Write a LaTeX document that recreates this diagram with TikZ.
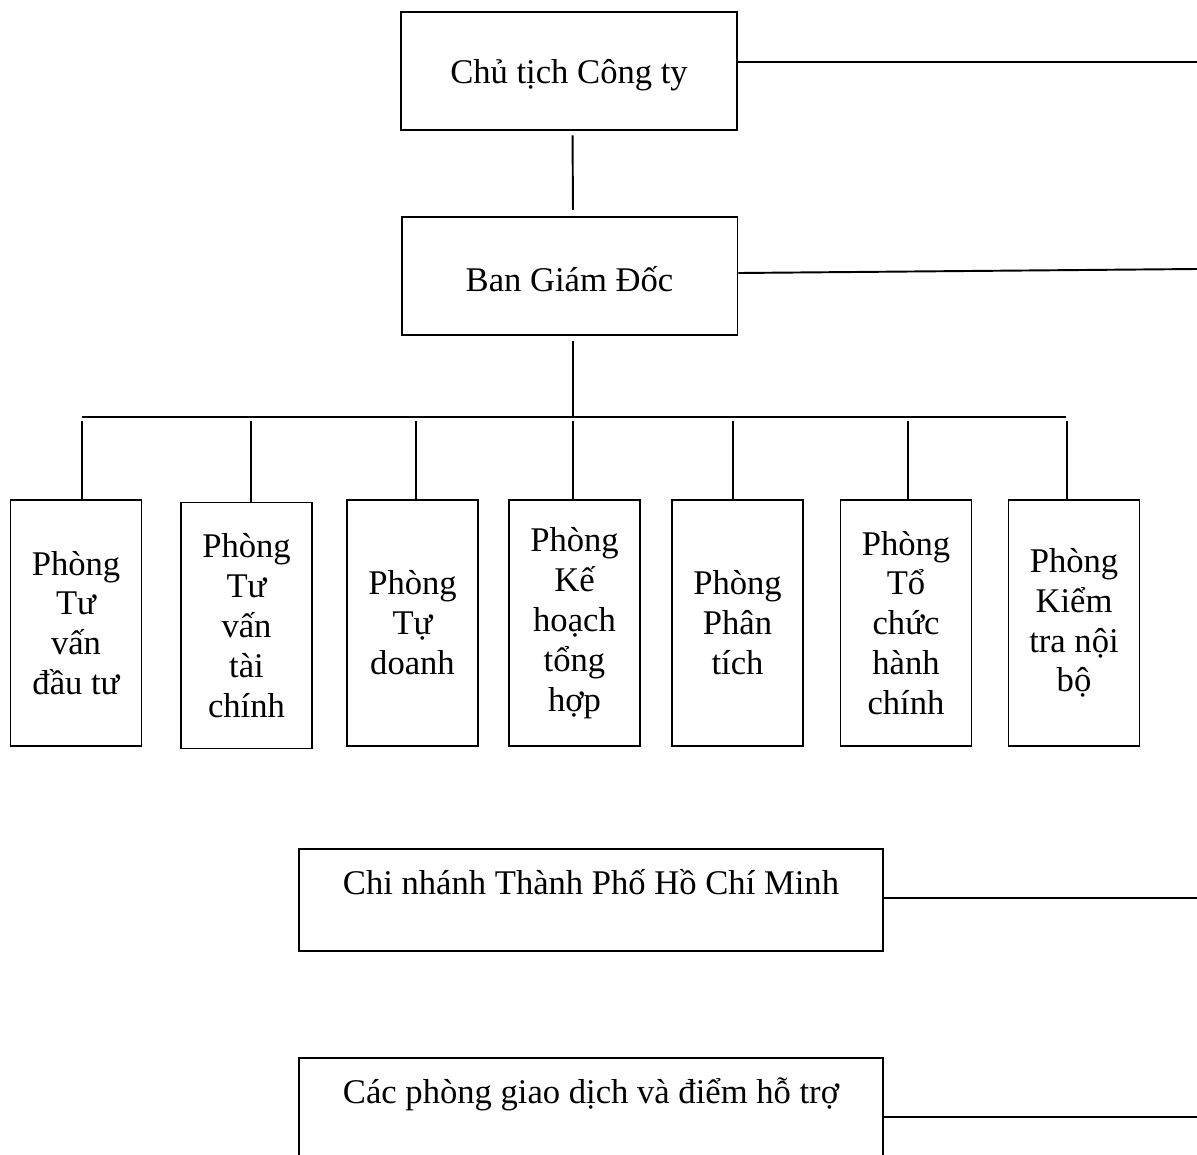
\documentclass[tikz,border=0pt]{standalone}
\usepackage{fontspec}
\setmainfont{Liberation Serif}
\usetikzlibrary{positioning}

\begin{document}
\begin{tikzpicture}[x=0.02cm,y=-0.02cm,line width=1.1pt,
  every node/.style={font=\fontsize{19.7}{22.7}\selectfont},
  box/.style={draw,inner sep=0pt,align=center},
  topbox/.style={box,minimum width=6.72cm,minimum height=2.36cm,text height=18pt},
  dept/.style={box,minimum width=2.62cm,minimum height=4.92cm},
  branch/.style={box,minimum width=11.68cm,minimum height=2.04cm}]
  \useasboundingbox (0,0) rectangle (1197,1155);
  \node[topbox] (chutich) at (569,71) {Chủ tịch Công ty};
  \node[topbox] (bgd) at (569.5,276) {Ban Giám Đốc};
  \node[branch] (cn) at (591,900) {Chi nhánh Thành Phố Hồ Chí Minh\\[-9pt]\strut};
  \node[branch] (pgd) at (591,1109) {Các phòng giao dịch và điểm hỗ trợ\\[-9pt]\strut};
  \foreach \x/\y/\n/\t in {76/623/1/{Phòng\\Tư\\vấn\\đầu tư},
      246.5/625.5/2/{Phòng\\Tư\\vấn\\tài\\chính},
      412.5/623/3/{Phòng\\Tự\\doanh},
      574.5/623/4/{Phòng\\Kế\\hoạch\\tổng\\hợp},
      737.5/623/5/{Phòng\\Phân\\tích},
      906/623/6/{Phòng\\Tổ\\chức\\hành\\chính},
      1074/623/7/{Phòng\\Kiểm\\tra nội\\bộ}}
    \node[dept] (d\n) at (\x,\y) {\t};
  \coordinate (r1) at (1197,62);
  \coordinate (r2) at (1197,269);
  \coordinate (r3) at (1197,898);
  \coordinate (r4) at (1197,1117);
  \coordinate (bl) at (82,417);
  \coordinate (br) at (1066,417);
  \draw (chutich.east |- r1) -- (r1);
  \draw ([yshift=1.7pt]bgd.east) -- (r2);
  \draw (cn.east |- r3) -- (r3);
  \draw (pgd.east |- r4) -- (r4);
  \draw[shorten <=2.5pt,shorten >=3.5pt] ([xshift=2pt]chutich.south) -- ([xshift=2pt]bgd.north);
  \draw[shorten <=3pt] ([xshift=2pt]bgd.south) -- ([xshift=2pt]bgd.south |- bl);
  \draw (bl) -- (br);
  \foreach \x/\n in {82/1,251/2,416/3,573/4,733/5,908/6,1067/7}{
    \coordinate (t\n) at (\x,421);
    \draw (t\n) -- (t\n |- d\n.north);
  }
\end{tikzpicture}
\end{document}
